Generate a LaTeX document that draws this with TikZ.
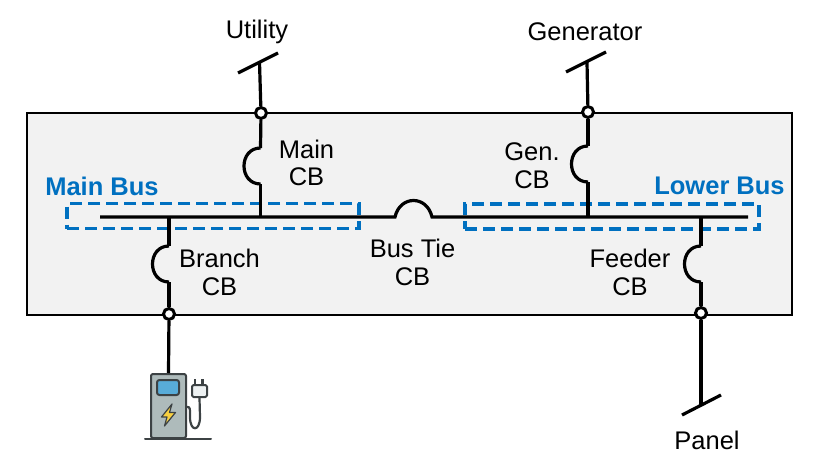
\documentclass[tikz,border=0pt]{standalone}
\usepackage{fontspec}
\setmainfont{Liberation Sans}
\definecolor{panelgray}{HTML}{F2F2F2}
\definecolor{busblue}{HTML}{0070C0}
\definecolor{pumpgray}{HTML}{AEBBBB}
\definecolor{pumpline}{HTML}{3C4244}
\definecolor{pumpscreen}{HTML}{58ACD8}
\definecolor{pumpbolt}{HTML}{F8D040}
\definecolor{plugwhite}{HTML}{EDF1F2}
\tikzset{
	wire/.style={line width=3.2pt},
	term/.style={draw,circle,fill=white,line width=3pt,inner sep=0pt,minimum size=11pt},
	lbl/.style={font=\fontsize{25.5}{27.5}\selectfont,inner sep=0pt},
	buslbl/.style={font=\fontsize{25.5}{30}\selectfont\bfseries,text=busblue,inner sep=0pt},
	busbox/.style={draw=busblue,line width=3.2pt,dash pattern=on 12pt off 6pt,minimum height=25pt,inner sep=0pt},
	pump/.style={draw=pumpline,line width=2pt,line join=round}
}
\begin{document}
\begin{tikzpicture}[x=1pt,y=-1pt]
	\useasboundingbox (0,0) rectangle (820,460);
	\node[draw,fill=panelgray,line width=2.2pt,minimum width=765pt,minimum height=202pt,inner sep=0pt] (Board) at (409.5,214) {};
	% dashed bus zones
	\node[busbox,minimum width=292pt] (MainZone) at (213,216) {};
	\node[busbox,minimum width=294pt] (LowerZone) at (612,216.5) {};
	% fixed points
	\foreach \n/\x/\y in {BusL/100/217,BusR/748/217,TieL/395/217,TieR/432/217,
		MainJ/260.5/217,BranchJ/169/217,GenJ/588/217,FeederJ/701/217,
		MainA/260.5/148,MainB/260.5/184,BranchA/169/246,BranchB/169/282,
		GenA/588/146,GenB/588/182,FeederA/701/246,FeederB/701/282,
		UtilityTop/259.5/62,UtilityL/238/73,UtilityR/278/53,
		GenTop/587/62,GenL/566/72,GenR/606/52,
		PanelEnd/701/405,PanelL/682/415,PanelR/721/395}{%
		\coordinate (\n) at (\x,\y);
	}
	\foreach \n/\x/\y in {TermU/261/113,TermG/588/112,TermB/169/314,TermF/701/313}{%
		\node[term] (\n) at (\x,\y) {};
	}
	% charging post, body first so the feed can end on it
	\node[pump,fill=pumpgray,rounded corners=2pt,minimum width=35pt,minimum height=64pt,inner sep=0pt] (Post) at (168.5,406) {};
	\node[pump,fill=pumpscreen,rounded corners=2.5pt,minimum width=22pt,minimum height=15pt,inner sep=0pt] (Screen) at (168,387.5) {};
	\draw[pump,line width=1.2pt,fill=pumpbolt] (172,404) -- (161.5,417) -- (167,417) -- (164.5,426) -- (175.5,412.5) -- (169.5,412.5) -- cycle;
	\draw[pump,line cap=round] (145,438.5) -- (211,438.5);
	\node[pump,fill=plugwhite,rounded corners=1.5pt,minimum width=15pt,minimum height=12pt,inner sep=0pt] (Plug) at (199.5,391) {};
	\draw[pump,line width=2.6pt] (195,385) -- (195,378.5) (202.5,385) -- (202.5,378.5);
	\draw[pump,line width=2.2pt] (Plug.south) -- (200,417) .. controls (200,432) and (190,432) .. (190,417) -- (190,411) .. controls (190,407) and (188,406) .. (186,407);
	% wires
	\draw[wire] (BusL) -- (TieL) .. controls +(5,-22) and +(-5,-22) .. (TieR) -- (BusR);
	\draw[wire] (UtilityL) -- (UtilityR) (GenL) -- (GenR) (PanelL) -- (PanelR);
	\foreach \a/\b in {UtilityTop/TermU,TermU/MainA,MainB/MainJ,GenTop/TermG,TermG/GenA,GenB/GenJ,
		BranchJ/BranchA,BranchB/TermB,TermB/Post.north,FeederJ/FeederA,FeederB/TermF,TermF/PanelEnd}{%
		\draw[wire] (\a) -- (\b);
	}
	\foreach \a/\b in {MainA/MainB,BranchA/BranchB,GenA/GenB,FeederA/FeederB}{%
		\draw[wire] (\a) .. controls +(-22,0) and +(-22,0) .. (\b);
	}
	% labels
	\node[lbl] (Utility) at (257,32) {Utility};
	\node[lbl] (Generator) at (585,32) {Generator};
	\node[lbl] (Panel) at (707,440) {Panel};
	\node[lbl,align=center] (MainCB) at (306.5,163) {Main\\CB};
	\node[lbl,align=center] (GenCB) at (532,165.5) {Gen.\\CB};
	\node[lbl,align=center] (BranchCB) at (219.5,272.5) {Branch\\CB};
	\node[lbl,align=center] (FeederCB) at (630,272.5) {Feeder\\CB};
	\node[lbl,align=center] (TieCB) at (412.5,262.5) {Bus Tie\\CB};
	\node[buslbl] (MainBusLbl) at (102,186) {Main Bus};
	\node[buslbl] (LowerBusLbl) at (719.5,186) {Lower Bus};
\end{tikzpicture}
\end{document}
